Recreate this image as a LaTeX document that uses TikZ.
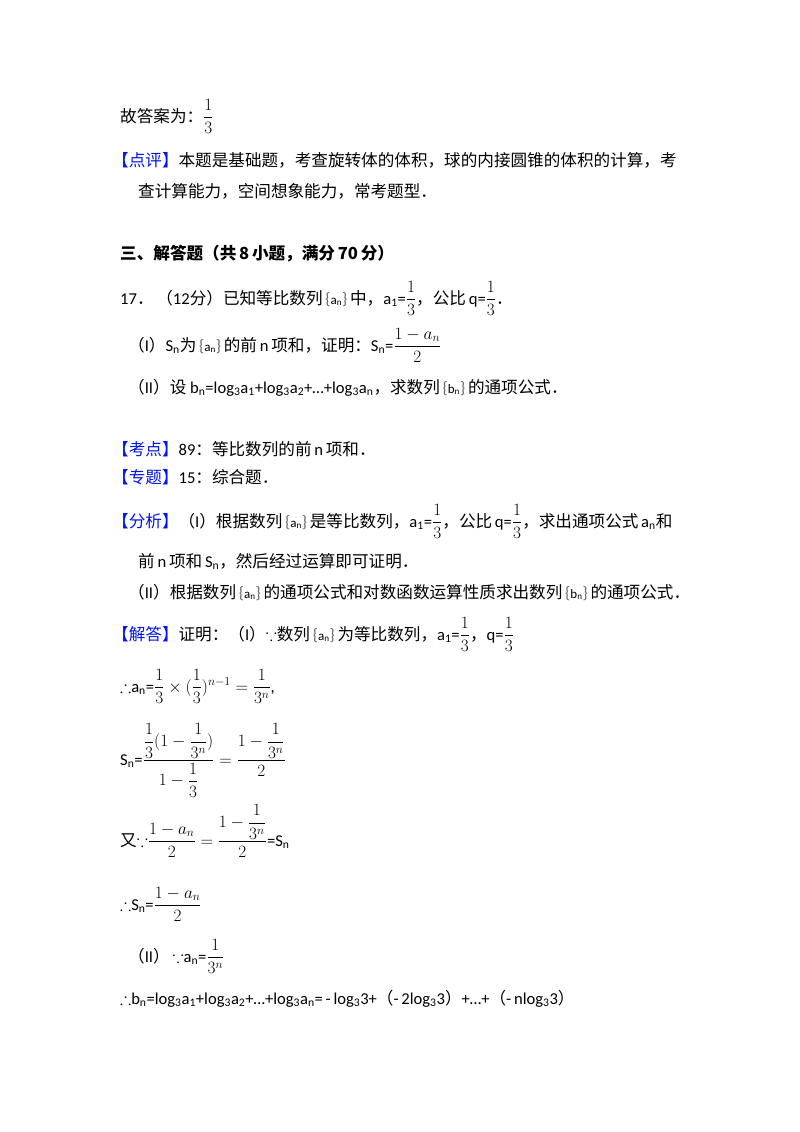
\documentclass[tikz,border=0pt]{standalone}
\usepackage{amsmath,amssymb}
\usepackage{fontspec}
\setmainfont{Carlito}
\newfontfamily\zh{Noto Sans CJK SC}
\definecolor{tagblue}{RGB}{0,20,240}
\tikzset{ln/.style={anchor=base west,inner sep=0pt,font=\fontsize{16.6}{20}\selectfont}}
\newcommand{\tg}[1]{{\color{tagblue}\zh 【#1】}}
\newcommand{\fr}[2]{\ensuremath{\dfrac{#1}{#2}}}
\newcommand{\sq}[1]{\,{\color{black!60}\{}{\fontsize{13}{15}\selectfont #1}{\color{black!60}\}}\,}
\newcommand{\bc}{\ensuremath{\boldsymbol{\because}}}
\newcommand{\tf}{\ensuremath{\boldsymbol{\therefore}}}
\begin{document}
\begin{tikzpicture}[x=1pt,y=-1pt]
\useasboundingbox[fill=white] (0,0) rectangle (800,1132);
\node[ln] (l1) at (120,122) {{\zh 故答案为：}\fr{1}{3}};
\node[ln] (l2) at (112,166) {\tg{点评}{\zh 本题是基础题，考查旋转体的体积，球的内接圆锥的体积的计算，考}};
\node[ln] (l3) at (138,197) {\zh 查计算能力，空间想象能力，常考题型．};
\node[ln] (l4) at (120,259) {\bfseries\zh 三、解答题（共\,8\,小题，满分\,70\,分）};
\node[ln] (l5) at (120,304) {17{\zh．}\,{\zh（}12{\zh 分）已知等比数列}\sq{a\textsubscript{n}}{\zh 中，}a\textsubscript{1}=\fr{1}{3}{\zh，公比}\,q=\fr{1}{3}{\zh．}};
\node[ln] (l6) at (128,351) {{\zh （}I{\zh ）}S\textsubscript{n}{\zh 为}\sq{a\textsubscript{n}}{\zh 的前}\,n\,{\zh 项和，证明：}S\textsubscript{n}=\fr{1-a_n}{2}};
\node[ln] (l7) at (128,393) {{\zh （}II{\zh ）设} b\textsubscript{n}=log\textsubscript{3}a\textsubscript{1}+log\textsubscript{3}a\textsubscript{2}+…+log\textsubscript{3}a\textsubscript{n}{\zh，求数列}\sq{b\textsubscript{n}}{\zh 的通项公式．}};
\node[ln] (l8) at (112,455) {\tg{考点}89{\zh：等比数列的前}\,n\,{\zh 项和．}};
\node[ln] (l9) at (112,483) {\tg{专题}15{\zh：综合题．}};
\node[ln] (l10) at (112,527) {\tg{分析}{\zh（}I{\zh）根据数列}\sq{a\textsubscript{n}}{\zh 是等比数列，}a\textsubscript{1}=\fr{1}{3}{\zh，公比}\,q=\fr{1}{3}{\zh，求出通项公式}\,a\textsubscript{n}{\zh 和}};
\node[ln] (l11) at (138,567) {{\zh 前}\,n\,{\zh 项和}\,S\textsubscript{n}{\zh，然后经过运算即可证明．}};
\node[ln] (l12) at (128,598) {{\zh（}II{\zh）根据数列}\sq{a\textsubscript{n}}{\zh 的通项公式和对数函数运算性质求出数列}\sq{b\textsubscript{n}}{\zh 的通项公式．}};
\node[ln] (l13) at (112,640) {\tg{解答}{\zh 证明：（}I{\zh）}\bc{\zh 数列}\sq{a\textsubscript{n}}{\zh 为等比数列，}a\textsubscript{1}=\fr{1}{3}{\zh，}q=\fr{1}{3}};
\node[ln] (l14) at (120,692) {\tf a\textsubscript{n}=$\dfrac{1}{3}\times(\dfrac{1}{3})^{n-1}=\dfrac{1}{3^n}$,};
\node[ln] (l15) at (120,765) {S\textsubscript{n}=$\dfrac{\dfrac{1}{3}(1-\dfrac{1}{3^n})}{1-\dfrac{1}{3}}=\dfrac{1-\dfrac{1}{3^n}}{2}$};
\node[ln] (l16) at (120,846) {{\zh 又}\bc$\dfrac{1-a_n}{2}=\dfrac{1-\dfrac{1}{3^n}}{2}$=S\textsubscript{n}};
\node[ln] (l17) at (120,910) {\tf S\textsubscript{n}=$\dfrac{1-a_n}{2}$};
\node[ln] (l18) at (128,962) {{\zh（}II{\zh）}\,\bc a\textsubscript{n}=$\dfrac{1}{3^n}$};
\node[ln] (l19) at (120,1004) {\tf b\textsubscript{n}=log\textsubscript{3}a\textsubscript{1}+log\textsubscript{3}a\textsubscript{2}+…+log\textsubscript{3}a\textsubscript{n}=\,-\,log\textsubscript{3}3+{\zh（}-\,2log\textsubscript{3}3{\zh）}+…+{\zh（}-\,nlog\textsubscript{3}3{\zh）}};
\end{tikzpicture}
\end{document}
